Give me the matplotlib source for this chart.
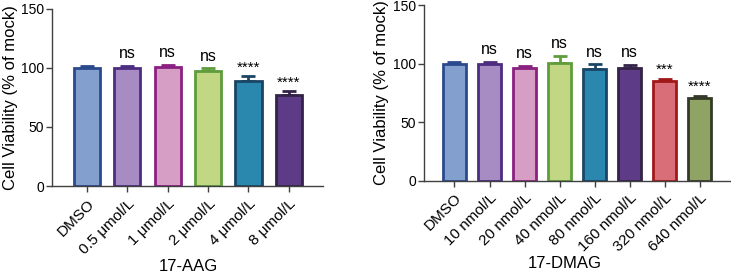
import matplotlib.pyplot as plt

plt.rcParams["font.family"] = ["Liberation Sans", "DejaVu Sans"]

# 17-AAG panel
aag_labels = ["DMSO", "0.5 μmol/L", "1 μmol/L", "2 μmol/L", "4 μmol/L", "8 μmol/L"]
aag_means = [99.5, 100.2, 100.7, 97.3, 88.9, 77.4]
aag_err = [1.8, 1.3, 1.7, 2.3, 3.9, 2.8]
aag_sig = ["", "ns", "ns", "ns", "****", "****"]

# 17-DMAG panel
dmag_labels = ["DMSO", "10 nmol/L", "20 nmol/L", "40 nmol/L", "80 nmol/L",
               "160 nmol/L", "320 nmol/L", "640 nmol/L"]
dmag_means = [99.3, 99.6, 96.3, 100.6, 95.5, 96.3, 85.5, 70.9]
dmag_err = [2.5, 2.1, 1.9, 6.2, 3.8, 2.5, 1.6, 1.7]
dmag_sig = ["", "ns", "ns", "ns", "ns", "ns", "***", "****"]

fills = ["#839fce", "#a78bc3", "#d69dc5", "#c2d784", "#2a88af", "#5e3b86",
         "#d96d78", "#8ea364"]
edges = ["#2b4a8e", "#4c2d80", "#8a2080", "#5e9c3c", "#1a4565", "#332348",
         "#a01818", "#343a27"]
aag_idx = [0, 1, 2, 3, 4, 5]
dmag_idx = [0, 1, 2, 3, 4, 5, 6, 7]


def draw_panel(ax, labels, means, errs, sig, idx, ylab_x):
    x = list(range(len(labels)))
    fc = [fills[i] for i in idx]
    ec = [edges[i] for i in idx]
    ax.bar(x, means, width=0.65, color=fc, edgecolor=ec, linewidth=2, zorder=2)
    for xi, m, e, c in zip(x, means, errs, ec):
        ax.errorbar(xi, m, yerr=[[0], [e]], fmt="none", ecolor=c,
                    elinewidth=2, capsize=5, capthick=2, zorder=1)
    for xi, m, e, s in zip(x, means, errs, sig):
        if not s:
            continue
        if s == "ns":
            ax.text(xi, m + e + 4, s, ha="center", va="bottom", fontsize=11.5)
        else:
            ax.text(xi, m + e + 1.5, s, ha="center", va="bottom", fontsize=11)
    ax.set_xlim(-0.87, len(labels) - 1 + 0.85)
    ax.set_ylim(0, 150)
    ax.set_yticks([0, 50, 100, 150])
    ax.set_xticks(x)
    ax.set_xticklabels(labels, rotation=45, ha="right", rotation_mode="anchor",
                       fontsize=11)
    ax.tick_params(axis="y", labelsize=10, width=1, length=4, pad=1.5,
                   color="#404040")
    ax.tick_params(axis="x", width=1, length=4, color="#404040")
    ax.set_ylabel("Cell Viability (% of mock)", fontsize=12)
    ax.yaxis.set_label_coords(ylab_x, 0.5)
    for side in ["top", "right"]:
        ax.spines[side].set_visible(False)
    for side in ["left", "bottom"]:
        ax.spines[side].set_color("#404040")
        ax.spines[side].set_linewidth(1)


fig = plt.figure(figsize=(7.31, 2.74), dpi=100)
ax1 = fig.add_axes([0.071, 0.321, 0.371, 0.647])
ax2 = fig.add_axes([0.580, 0.341, 0.418, 0.640])

draw_panel(ax1, aag_labels, aag_means, aag_err, aag_sig, aag_idx, -0.125)
draw_panel(ax2, dmag_labels, dmag_means, dmag_err, dmag_sig, dmag_idx, -0.115)

fig.text(188 / 731, 0.028, "17-AAG", ha="center", va="center", fontsize=12)
fig.text(565 / 731, 0.038, "17-DMAG", ha="center", va="center", fontsize=12)

fig.savefig("out.png", dpi=100)
